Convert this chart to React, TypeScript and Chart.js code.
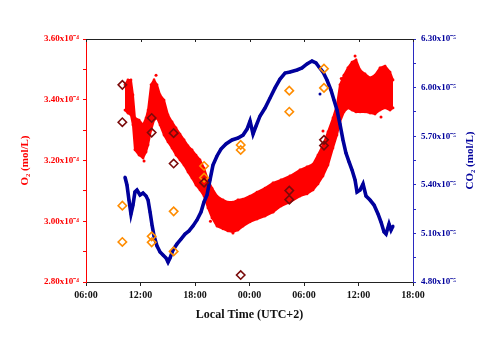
import React, { useEffect, useRef } from "react";
import { Chart, registerables } from "chart.js";

Chart.register(...registerables);

// Time in hours since 00:00 of day 1 (06:00 = 6, next day 06:00 = 30)
const o2Hours = [10.29, 10.62, 10.95, 11.17, 11.39, 11.84, 12.28, 12.61, 12.83, 13.16, 13.49, 13.82, 14.15, 14.59, 15.03, 15.47, 15.91, 16.35, 16.79, 17.23, 17.67, 18.11, 18.55, 18.99, 19.43, 19.87, 20.42, 21.08, 21.63, 22.18, 22.73, 23.29, 24.06, 24.83, 25.71, 26.59, 27.47, 28.46, 29.56, 30.33, 30.99, 31.54, 32.09, 32.64, 33.19, 33.63, 33.96, 34.40, 34.84, 35.29, 35.73, 36.17, 36.72, 37.27, 37.82, 38.37, 38.92, 39.47, 39.80];
// O2 (x10^-4 mol/L): upper and lower edge of the dense sensor cloud
const o2Upper = [3.449, 3.465, 3.465, 3.416, 3.340, 3.333, 3.317, 3.340, 3.366, 3.449, 3.465, 3.449, 3.416, 3.399, 3.350, 3.327, 3.307, 3.287, 3.268, 3.248, 3.235, 3.218, 3.202, 3.175, 3.136, 3.109, 3.083, 3.070, 3.063, 3.063, 3.070, 3.073, 3.083, 3.096, 3.109, 3.126, 3.136, 3.149, 3.169, 3.179, 3.188, 3.218, 3.251, 3.294, 3.340, 3.383, 3.449, 3.481, 3.505, 3.524, 3.531, 3.498, 3.485, 3.472, 3.481, 3.505, 3.511, 3.491, 3.465];
const o2Lower = [3.366, 3.356, 3.350, 3.317, 3.235, 3.218, 3.208, 3.228, 3.251, 3.300, 3.333, 3.340, 3.317, 3.284, 3.261, 3.241, 3.218, 3.202, 3.185, 3.162, 3.142, 3.119, 3.103, 3.083, 3.044, 3.011, 2.984, 2.975, 2.968, 2.965, 2.971, 2.984, 2.998, 3.007, 3.017, 3.030, 3.050, 3.063, 3.083, 3.090, 3.103, 3.123, 3.149, 3.185, 3.241, 3.284, 3.327, 3.360, 3.373, 3.366, 3.360, 3.360, 3.360, 3.356, 3.353, 3.366, 3.373, 3.366, 3.373];
// isolated O2 readings outside the dense cloud
const o2StrayHours = [13.71, 12.39, 22.18, 35.62, 32.09, 38.48, 19.7, 34.1];
const o2StrayValues = [3.481, 3.198, 2.961, 3.544, 3.297, 3.343, 3.000, 3.470];

const co2Hours = [10.29, 10.51, 10.73, 10.95, 11.17, 11.39, 11.61, 11.95, 12.28, 12.61, 12.83, 13.05, 13.27, 13.49, 13.82, 14.15, 14.48, 14.81, 15.03, 15.25, 15.58, 16.02, 16.46, 16.90, 17.34, 17.78, 18.22, 18.66, 18.99, 19.32, 19.65, 19.98, 20.42, 20.86, 21.41, 22.07, 22.73, 23.29, 23.73, 24.06, 24.39, 24.72, 25.16, 25.71, 26.26, 26.81, 27.36, 27.91, 28.46, 29.23, 29.78, 30.33, 30.88, 31.32, 31.65, 32.09, 32.53, 32.97, 33.30, 33.63, 33.96, 34.29, 34.62, 34.96, 35.29, 35.62, 35.84, 36.17, 36.50, 36.83, 37.27, 37.71, 38.15, 38.48, 38.81, 39.03, 39.36, 39.58, 39.80];
// CO2 (x10^-5 mol/L)
const co2Values = [5.448, 5.399, 5.306, 5.220, 5.275, 5.356, 5.368, 5.337, 5.349, 5.331, 5.306, 5.232, 5.152, 5.084, 5.022, 4.985, 4.967, 4.948, 4.923, 4.948, 4.998, 5.035, 5.065, 5.096, 5.115, 5.146, 5.183, 5.232, 5.294, 5.337, 5.430, 5.522, 5.578, 5.621, 5.652, 5.677, 5.689, 5.707, 5.744, 5.794, 5.714, 5.763, 5.825, 5.874, 5.936, 5.998, 6.053, 6.090, 6.096, 6.109, 6.121, 6.146, 6.164, 6.152, 6.127, 6.096, 6.047, 5.985, 5.923, 5.862, 5.775, 5.677, 5.596, 5.541, 5.491, 5.430, 5.356, 5.368, 5.405, 5.331, 5.306, 5.275, 5.220, 5.170, 5.109, 5.096, 5.158, 5.121, 5.146];
const co2StrayHours = [31.76];
const co2StrayValues = [5.96];

// Discrete samples
const o2SampleHours = [10.0, 10.0, 13.23, 13.23, 15.65, 15.65, 19.0, 23.03, 28.38, 28.38, 32.2, 32.2];
const o2SampleValues = [3.449, 3.326, 3.340, 3.292, 3.290, 3.190, 3.127, 2.823, 3.101, 3.071, 3.268, 3.249];
const co2SampleHours = [10.0, 10.0, 13.23, 13.23, 15.65, 15.65, 19.0, 19.0, 23.03, 23.03, 28.38, 28.38, 32.2, 32.2];
const co2SampleValues = [5.271, 5.047, 5.082, 5.045, 5.236, 4.989, 5.516, 5.444, 5.646, 5.615, 5.981, 5.851, 6.117, 5.998];

const xTickHours = [6, 12, 18, 24, 30, 36, 42];
const xTitle = "Local Time (UTC+2)";
const yLeftTitle = "O\u2082 (mol/L)";
const yRightTitle = "CO\u2082 (mol/L)";

const RED = "#ff0000";
const BLUE = "#00009c";
const DARKRED = "#7a0a0a";
const ORANGE = "#ff8c00";
const FONT = "'Liberation Serif', 'Times New Roman', serif";

const pairs = (xs: number[], ys: number[]) => xs.map((x, i) => ({ x, y: ys[i] }));

const fmtTime = (h: number) => String(((h % 24) + 24) % 24).padStart(2, "0") + ":00";

const titlesPlugin = {
  id: "titlesPlugin",
  afterDraw(chart: any) {
    const { ctx, chartArea } = chart;
    const xs = chart.scales.x;
    ctx.save();
    ctx.strokeStyle = "#222";
    ctx.lineWidth = 1;
    ctx.beginPath();
    ctx.moveTo(chartArea.left, chartArea.top + 0.5);
    ctx.lineTo(chartArea.right, chartArea.top + 0.5);
    xTickHours.forEach((h) => {
      const px = Math.round(xs.getPixelForValue(h)) + 0.5;
      ctx.moveTo(px, chartArea.top);
      ctx.lineTo(px, chartArea.top + 3);
    });
    ctx.stroke();
    const cy = (chartArea.top + chartArea.bottom) / 2;
    ctx.textAlign = "center";
    ctx.textBaseline = "middle";
    ctx.fillStyle = "#111";
    ctx.font = `bold 12px ${FONT}`;
    ctx.fillText(xTitle, (chartArea.left + chartArea.right) / 2, 315);
    ctx.save();
    ctx.translate(25, cy);
    ctx.rotate(-Math.PI / 2);
    ctx.fillStyle = RED;
    ctx.font = `bold 11px ${FONT}`;
    ctx.fillText(yLeftTitle, 0, 0);
    ctx.restore();
    ctx.save();
    ctx.translate(470, cy);
    ctx.rotate(-Math.PI / 2);
    ctx.fillStyle = BLUE;
    ctx.font = `bold 11px ${FONT}`;
    ctx.fillText(yRightTitle, 0, 0);
    ctx.restore();
    ctx.restore();
  },
};

export default function App() {
  const ref = useRef<HTMLCanvasElement | null>(null);
  useEffect(() => {
    document.body.style.margin = "0";
    const canvas = ref.current!;
    const chart = new Chart(canvas, {
      type: "scatter",
      data: {
        datasets: [
          {
            label: "O2 samples",
            data: pairs(o2SampleHours, o2SampleValues),
            yAxisID: "y",
            pointStyle: "rectRot",
            pointRadius: 4.2,
            borderColor: DARKRED,
            backgroundColor: "rgba(255,255,255,0)",
            borderWidth: 1.6,
            showLine: false,
          },
          {
            label: "CO2 samples",
            data: pairs(co2SampleHours, co2SampleValues),
            yAxisID: "y2",
            pointStyle: "rectRot",
            pointRadius: 4.2,
            borderColor: ORANGE,
            backgroundColor: "rgba(255,255,255,0)",
            borderWidth: 1.6,
            showLine: false,
          },
          {
            label: "CO2 stray",
            data: pairs(co2StrayHours, co2StrayValues),
            yAxisID: "y2",
            showLine: false,
            pointRadius: 1.5,
            borderWidth: 0,
            backgroundColor: BLUE,
          },
          {
            label: "CO2",
            data: pairs(co2Hours, co2Values),
            yAxisID: "y2",
            showLine: true,
            borderColor: BLUE,
            backgroundColor: BLUE,
            borderWidth: 3.6,
            pointRadius: 1.5,
            pointBorderWidth: 0,
            tension: 0,
          },
          {
            label: "O2 stray",
            data: pairs(o2StrayHours, o2StrayValues),
            yAxisID: "y",
            showLine: false,
            pointRadius: 1.5,
            borderWidth: 0,
            backgroundColor: RED,
          },
          {
            label: "O2 lower",
            data: pairs(o2Hours, o2Lower),
            yAxisID: "y",
            showLine: true,
            borderColor: RED,
            backgroundColor: RED,
            borderWidth: 2,
            pointRadius: 1.4,
            pointBorderWidth: 0,
            fill: false,
          },
          {
            label: "O2 upper",
            data: pairs(o2Hours, o2Upper),
            yAxisID: "y",
            showLine: true,
            borderColor: RED,
            backgroundColor: RED,
            borderWidth: 2,
            pointRadius: 1.4,
            pointBorderWidth: 0,
            fill: "-1",
          },
        ],
      },
      options: {
        animation: false,
        responsive: false,
        maintainAspectRatio: false,
        layout: { padding: { top: 39, left: 0, right: 0, bottom: 0 } },
        plugins: { legend: { display: false }, tooltip: { enabled: false } },
        scales: {
          x: {
            type: "linear",
            position: "bottom",
            min: 6,
            max: 42,
            afterFit: (s: any) => { s.height = 57; },
            afterBuildTicks: (s: any) => { s.ticks = xTickHours.map((v) => ({ value: v })); },
            ticks: {
              color: "#111",
              font: { family: FONT, size: 10, weight: "bold" },
              padding: 3,
              maxRotation: 0,
              autoSkip: false,
              callback: (v: any) => fmtTime(Number(v)),
            },
            grid: { display: true, drawOnChartArea: false, drawTicks: true, tickLength: 4, color: "#222" },
            border: { display: true, color: "#222", width: 1 },
            title: { display: false },
          },
          y: {
            type: "linear",
            position: "left",
            min: 2.8,
            max: 3.6,
            afterFit: (s: any) => { s.width = 86; },
            ticks: {
              stepSize: 0.1,
              color: RED,
              font: { family: FONT, size: 9, weight: "bold" },
              padding: 4,
              autoSkip: false,
              callback: (v: any) => {
                const n = Math.round(Number(v) * 10);
                return n % 2 === 0 ? (n / 10).toFixed(2) + "x10\u207B\u2074" : "";
              },
            },
            grid: { display: true, drawOnChartArea: false, drawTicks: true, tickLength: 3, color: RED },
            border: { display: true, color: RED, width: 1 },
          },
          y2: {
            type: "linear",
            position: "right",
            min: 4.8,
            max: 6.3,
            afterFit: (s: any) => { s.width = 67; },
            ticks: {
              stepSize: 0.15,
              color: BLUE,
              font: { family: FONT, size: 9, weight: "bold" },
              padding: 5,
              autoSkip: false,
              callback: (v: any) => {
                const k = Math.round((Number(v) - 4.8) / 0.15);
                return k % 2 === 0 ? Number(v).toFixed(2) + "x10\u207B\u2075" : "";
              },
            },
            grid: { display: true, drawOnChartArea: false, drawTicks: true, tickLength: 3, color: "#2a2ac0" },
            border: { display: true, color: "#2a2ac0", width: 1 },
          },
        },
      },
      plugins: [titlesPlugin],
    } as any);
    return () => chart.destroy();
  }, []);
  return (
    <div style={{ position: "fixed", left: 0, top: 0, width: 480, height: 339, background: "#fff" }}>
      <canvas ref={ref} width={480} height={339} />
    </div>
  );
}
